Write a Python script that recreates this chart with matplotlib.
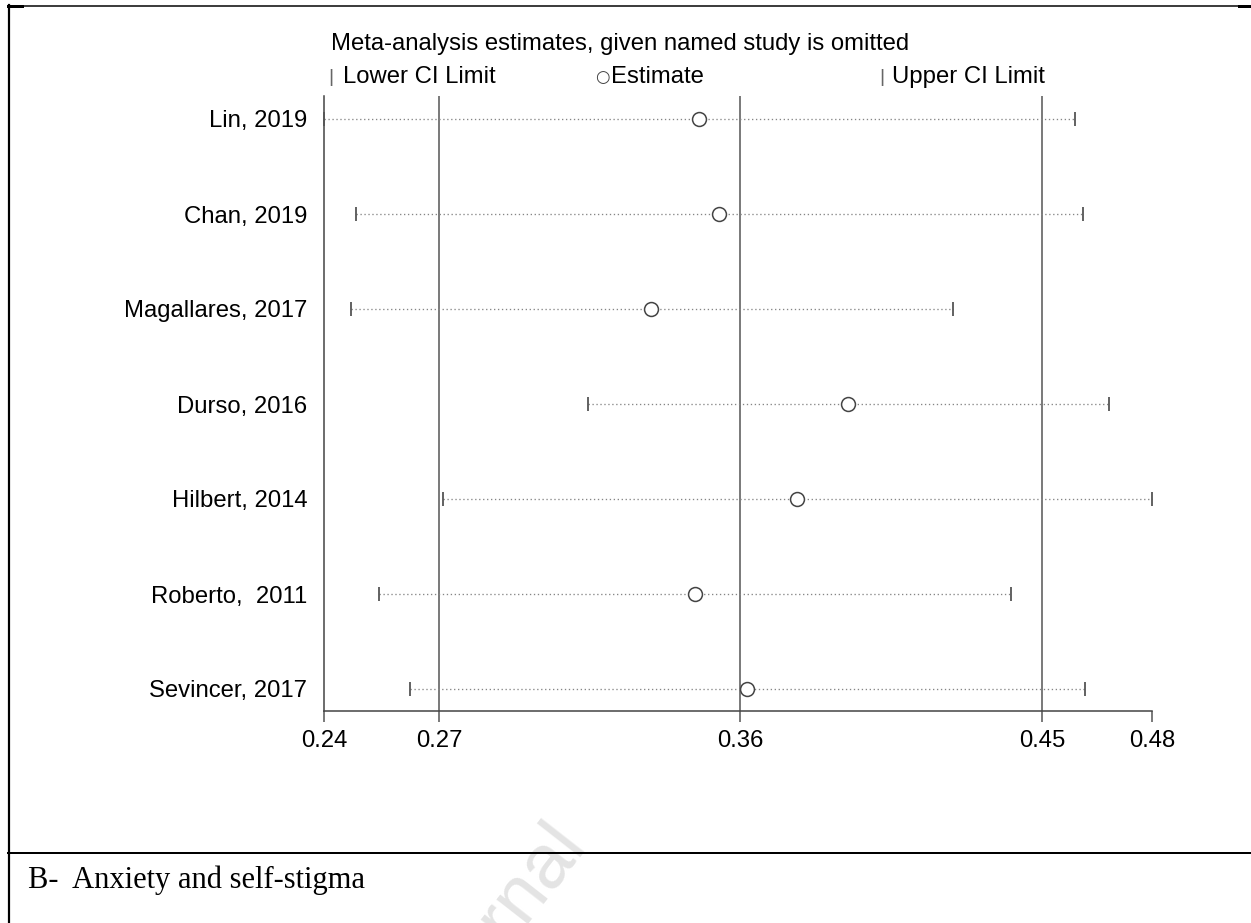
import matplotlib
matplotlib.use("Agg")
import matplotlib.pyplot as plt
from matplotlib.lines import Line2D

# ---------------- data ----------------
studies = ["Lin, 2019", "Chan, 2019", "Magallares, 2017", "Durso, 2016",
           "Hilbert, 2014", "Roberto,  2011", "Sevincer, 2017"]
lower = [0.2400, 0.2492, 0.2477, 0.3166, 0.2745, 0.2559, 0.2650]
estimate = [0.3487, 0.3545, 0.3348, 0.3920, 0.3772, 0.3474, 0.3626]
upper = [0.4577, 0.4600, 0.4222, 0.4674, 0.4800, 0.4390, 0.4605]
tick_values = [0.2400, 0.2733, 0.3606, 0.4481, 0.4800]
tick_labels = ["0.24", "0.27", "0.36", "0.45", "0.48"]
ref_lines = [0.2733, 0.3606, 0.4481]

W, H = 1251, 923
fig = plt.figure(figsize=(W / 100, H / 100), dpi=100)
fig.patch.set_facecolor("white")

def fx(px):
    return px / W

def fy(py):
    return 1 - py / H

SANS = "Liberation Sans"
FS = 17.2

# watermark fragment (behind everything)
fig.text(fx(588), fy(846), "Journal", fontsize=55, family=SANS,
         color="#e4e4e4", rotation=52, ha="right", va="baseline",
         rotation_mode="anchor", zorder=0)

# ---------------- main axes ----------------
ax_left, ax_right, ax_top, ax_bottom = 324, 1152, 96, 711
ax = fig.add_axes([fx(ax_left), fy(ax_bottom), fx(ax_right - ax_left),
                   (ax_bottom - ax_top) / H])
ax.set_facecolor("none")
ax.set_xlim(0.24, 0.48)
row0, step = 119, 95
ax.set_ylim((ax_bottom - row0) / step, (ax_top - row0) / step)

ys = list(range(len(studies)))
for y, lo, est, up in zip(ys, lower, estimate, upper):
    ax.plot([lo, up], [y, y], linestyle=(0, (1, 2)), color="#858585",
            lw=0.95, zorder=2, clip_on=False)
    ax.plot([lo, up], [y, y], linestyle="none", marker="|", markersize=10.5,
            mew=1.3, color="#555555", zorder=3, clip_on=False)
    ax.plot([est], [y], linestyle="none", marker="o", markersize=10,
            mfc="white", mec="#444444", mew=1.1, zorder=4, clip_on=False)

for v in ref_lines:
    ax.axvline(v, color="#555555", lw=1.1, zorder=1)

for s in ["top", "right"]:
    ax.spines[s].set_visible(False)
for s in ["left", "bottom"]:
    ax.spines[s].set_color("#444444")
    ax.spines[s].set_linewidth(1.1)

ax.set_xticks(tick_values)
ax.set_xticklabels(tick_labels, fontsize=FS, family=SANS)
ax.tick_params(axis="x", direction="out", length=8, width=1.1,
               color="#555555", pad=6)
ax.set_yticks(ys)
ax.set_yticklabels(studies, fontsize=FS, family=SANS)
ax.tick_params(axis="y", length=0, pad=12)

# title and legend line
fig.text(fx(331), fy(50), "Meta-analysis estimates, given named study is omitted",
         fontsize=FS, family=SANS, ha="left", va="baseline")
fig.text(fx(331), fy(82), "|", fontsize=14, family=SANS, color="#666666",
         ha="center", va="baseline")
fig.text(fx(343), fy(83), "Lower CI Limit", fontsize=FS, family=SANS,
         ha="left", va="baseline")
fig.text(fx(602), fy(82), "\u25cb", fontsize=12, family="DejaVu Sans",
         color="#444444", ha="center", va="baseline")
fig.text(fx(611), fy(83), "Estimate", fontsize=FS, family=SANS,
         ha="left", va="baseline")
fig.text(fx(882), fy(82), "|", fontsize=14, family=SANS, color="#666666",
         ha="center", va="baseline")
fig.text(fx(892), fy(83), "Upper CI Limit", fontsize=FS, family=SANS,
         ha="left", va="baseline")

# document frame lines
lw_px = 0.72
fig.add_artist(Line2D([fx(8), fx(1251)], [fy(5.5), fy(5.5)], color="black",
                      lw=1.5 * lw_px, transform=fig.transFigure))
fig.add_artist(Line2D([fx(8), fx(22)], [fy(6), fy(6)], color="black",
                      lw=3 * lw_px, transform=fig.transFigure))
fig.add_artist(Line2D([fx(1239), fx(1251)], [fy(6), fy(6)], color="black",
                      lw=3 * lw_px, transform=fig.transFigure))
fig.add_artist(Line2D([fx(9), fx(9)], [fy(5), fy(923)], color="black",
                      lw=2.2 * lw_px, transform=fig.transFigure))
fig.add_artist(Line2D([fx(8), fx(1251)], [fy(853), fy(853)], color="black",
                      lw=2 * lw_px, transform=fig.transFigure))

fig.text(fx(28), fy(888), "B-  Anxiety and self-stigma", fontsize=22,
         family="Liberation Serif", ha="left", va="baseline")

fig.savefig("out.png", dpi=100, facecolor="white")
